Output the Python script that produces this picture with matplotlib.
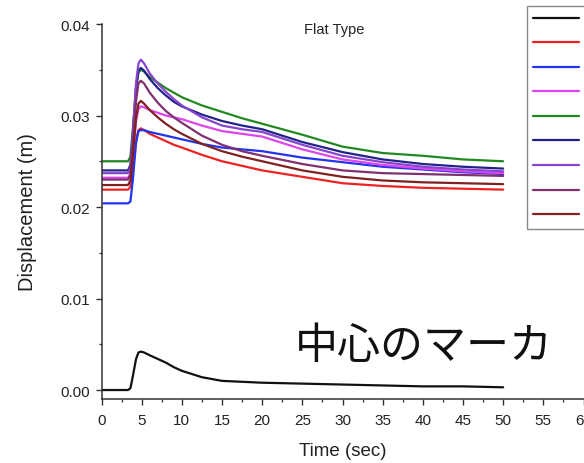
import matplotlib
matplotlib.use("Agg")
import matplotlib.pyplot as plt
from matplotlib.ticker import MultipleLocator, FormatStrFormatter

plt.rcParams['font.family'] = ['Liberation Sans', 'DejaVu Sans']

# Sample times (s)
time_s = [0, 3.3, 3.6, 3.9, 4.3, 4.6, 4.9, 5.3, 6, 7, 8, 9, 10,
          12.5, 15, 17.5, 20, 25, 30, 35, 40, 45, 50]

# Displacement (m) for each marker
center = [0.0, 0.0, 0.0002, 0.0015, 0.0034, 0.0041, 0.0042, 0.0041, 0.0038, 0.0034, 0.0030,
          0.0025, 0.0021, 0.0014, 0.0010, 0.0009, 0.0008, 0.0007, 0.0006, 0.0005, 0.0004,
          0.0004, 0.0003]
red = [0.0219, 0.0219, 0.0222, 0.0242, 0.0273, 0.0284, 0.0286, 0.0284, 0.0280, 0.0276,
       0.0272, 0.0268, 0.0265, 0.0257, 0.0250, 0.0245, 0.0240, 0.0233, 0.0226, 0.0223,
       0.0221, 0.0220, 0.0219]
blue = [0.0204, 0.0204, 0.0206, 0.0230, 0.0270, 0.0283, 0.0284, 0.0284, 0.0282, 0.0280,
        0.0278, 0.0276, 0.0274, 0.0269, 0.0265, 0.0263, 0.0261, 0.0254, 0.0249, 0.0244,
        0.0241, 0.0238, 0.0236]
magenta = [0.0232, 0.0232, 0.0236, 0.0259, 0.0294, 0.0307, 0.0310, 0.0309, 0.0306, 0.0303,
           0.0300, 0.0298, 0.0296, 0.0289, 0.0283, 0.0280, 0.0277, 0.0263, 0.0252, 0.0246,
           0.0242, 0.0239, 0.0237]
green = [0.0250, 0.0250, 0.0255, 0.0285, 0.0330, 0.0347, 0.0350, 0.0348, 0.0342, 0.0336,
         0.0330, 0.0325, 0.0320, 0.0311, 0.0304, 0.0297, 0.0291, 0.0279, 0.0266, 0.0259,
         0.0256, 0.0252, 0.0250]
navy = [0.0240, 0.0240, 0.0246, 0.0279, 0.0330, 0.0349, 0.0352, 0.0349, 0.0340, 0.0330,
        0.0322, 0.0315, 0.0310, 0.0301, 0.0294, 0.0289, 0.0285, 0.0271, 0.0260, 0.0252,
        0.0247, 0.0244, 0.0242]
violet = [0.0237, 0.0237, 0.0243, 0.0280, 0.0336, 0.0357, 0.0361, 0.0357, 0.0346, 0.0335,
          0.0326, 0.0318, 0.0311, 0.0298, 0.0289, 0.0285, 0.0282, 0.0268, 0.0256, 0.0249,
          0.0244, 0.0241, 0.0239]
plum = [0.0230, 0.0230, 0.0235, 0.0268, 0.0316, 0.0335, 0.0338, 0.0335, 0.0325, 0.0314,
        0.0305, 0.0298, 0.0292, 0.0278, 0.0268, 0.0261, 0.0256, 0.0247, 0.0240, 0.0237,
        0.0236, 0.0235, 0.0234]
maroon = [0.0224, 0.0224, 0.0229, 0.0256, 0.0298, 0.0313, 0.0316, 0.0313, 0.0306, 0.0298,
          0.0291, 0.0285, 0.0280, 0.0269, 0.0261, 0.0255, 0.0250, 0.0240, 0.0233, 0.0229,
          0.0227, 0.0226, 0.0225]

series = [center, red, blue, magenta, green, navy, violet, plum, maroon]
colors = ['#111111', '#ee2222', '#2233ee', '#dd44ee', '#228822',
          '#22228a', '#8844cc', '#803070', '#802020']
labels = ['Marker 1', 'Marker 2', 'Marker 3', 'Marker 4', 'Marker 5',
          'Marker 6', 'Marker 7', 'Marker 8', 'Marker 9']

x_ticks = [0, 5, 10, 15, 20, 25, 30, 35, 40, 45, 50, 55, 60]
y_ticks = [0.00, 0.01, 0.02, 0.03, 0.04]

W, H = 584, 464
fig = plt.figure(figsize=(W / 100, H / 100), dpi=100)
ax = fig.add_axes([101.5 / W, 64 / H, 482 / W, 375 / H])

for vals, c, lab in zip(series, colors, labels):
    ax.plot(time_s, vals, color=c, lw=1.6, label=lab,
            solid_joinstyle='round', solid_capstyle='round')

ax.set_xlim(0, 60)
ax.set_ylim(-0.00098, 0.04)
ax.set_xticks(x_ticks)
ax.set_yticks(y_ticks)
ax.xaxis.set_minor_locator(MultipleLocator(2.5))
ax.yaxis.set_minor_locator(MultipleLocator(0.005))
ax.yaxis.set_major_formatter(FormatStrFormatter('%.2f'))

for s in ['top', 'right']:
    ax.spines[s].set_visible(False)
for s in ['left', 'bottom']:
    ax.spines[s].set_color('#333333')
    ax.spines[s].set_linewidth(1.1)

ax.tick_params(which='major', direction='out', length=4, width=1.0,
               color='#333333', labelsize=11, labelcolor='#222222', pad=4)
ax.tick_params(which='minor', direction='out', length=2.5, width=0.9, color='#333333')
ax.tick_params(axis='x', which='major', pad=6)

ax.set_xlabel('Time (sec)', fontsize=13.5, color='#222222', labelpad=11)
ax.set_ylabel('Displacement (m)', fontsize=14.5, color='#222222', labelpad=17)

ax.text(29.0, 0.03945, 'Flat Type', ha='center', va='center', fontsize=10.5, color='#222222')
ax.text(24.1, 0.0048, '中心のマーカ', ha='left', va='center', fontsize=31,
        family=['Noto Sans CJK JP', 'DejaVu Sans'], color='#111111')

fig.legend(loc='upper left', bbox_to_anchor=(527 / W, 1 - 7 / H),
           bbox_transform=fig.transFigure, borderaxespad=0, fontsize=11,
           labelspacing=0.69, handlelength=3.0, handletextpad=0.3, borderpad=0.4,
           frameon=True, fancybox=False, edgecolor='#888888', framealpha=1)

fig.savefig('out.png', dpi=100)
